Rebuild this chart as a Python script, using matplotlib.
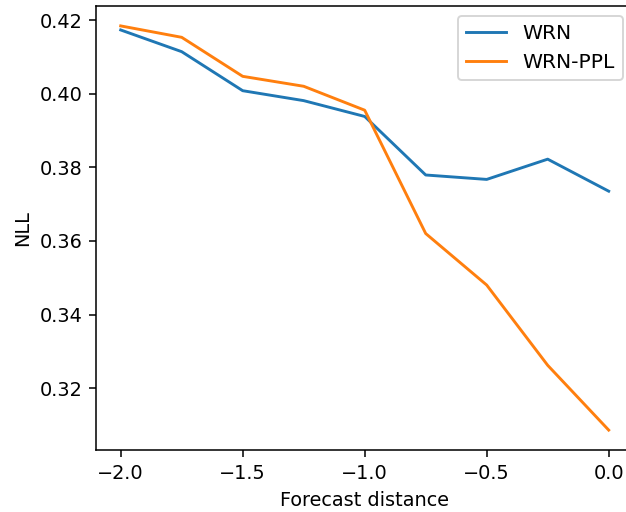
import matplotlib

matplotlib.use("Agg")
import matplotlib.pyplot as plt

distance = [-2.0, -1.75, -1.5, -1.25, -1.0, -0.75, -0.5, -0.25, 0.0]
nll_wrn = [0.4173, 0.4114, 0.4008, 0.3981, 0.3938, 0.3779, 0.3767, 0.3822, 0.3735]
nll_wrn_ppl = [0.4184, 0.4153, 0.4047, 0.4020, 0.3955, 0.3620, 0.3480, 0.3262, 0.3086]

DPI = 139
fig = plt.figure(figsize=(626 / DPI, 512 / DPI), dpi=DPI)
# axes runs a little past the right edge of the picture, as in the reference
ax = fig.add_axes([96.3 / 626, 61.7 / 512, 536.8 / 626, 444.6 / 512])

ax.plot(distance, nll_wrn, label="WRN")
ax.plot(distance, nll_wrn_ppl, label="WRN-PPL")
ax.set_xlabel("Forecast distance")
ax.set_ylabel("NLL")
ax.set_xticks([-2.0, -1.5, -1.0, -0.5, 0.0])
ax.set_yticks([0.32, 0.34, 0.36, 0.38, 0.40, 0.42])
ax.legend(loc="upper right", fontsize=10.5)

fig.savefig("out.png", dpi=DPI)
